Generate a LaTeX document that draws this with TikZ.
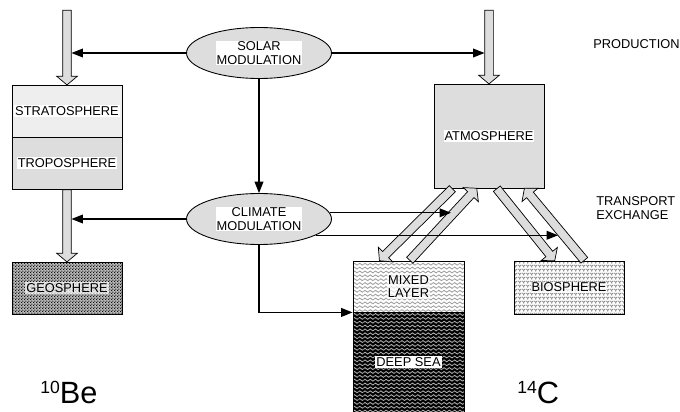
\documentclass[tikz,border=0pt]{standalone}
\usepackage{fontspec}
\setmainfont{Liberation Sans}
\usetikzlibrary{shapes.geometric, shapes.arrows, arrows.meta, calc, patterns}
\definecolor{panelgray}{RGB}{221,221,221}
\definecolor{palegray}{RGB}{238,238,238}
\newcommand{\diagfont}{\fontsize{7.3}{7.6}\selectfont}

% wavy water
\pgfdeclarepatternformonly{seawaves}{\pgfqpoint{0pt}{-0.6pt}}{\pgfqpoint{3pt}{1.6pt}}{\pgfqpoint{3pt}{2.2pt}}{%
  \pgfsetlinewidth{0.5pt}%
  \pgfpathmoveto{\pgfqpoint{0pt}{0.5pt}}%
  \pgfpathcurveto{\pgfqpoint{0.5pt}{1.2pt}}{\pgfqpoint{1pt}{1.2pt}}{\pgfqpoint{1.5pt}{0.5pt}}%
  \pgfpathcurveto{\pgfqpoint{2pt}{-0.2pt}}{\pgfqpoint{2.5pt}{-0.2pt}}{\pgfqpoint{3pt}{0.5pt}}%
  \pgfusepath{stroke}}
% little plants
\pgfdeclarepatternformonly{sprouts}{\pgfqpoint{0pt}{0pt}}{\pgfqpoint{2.4pt}{2.4pt}}{\pgfqpoint{2.4pt}{2.4pt}}{%
  \pgfsetlinewidth{0.5pt}%
  \pgfpathmoveto{\pgfqpoint{0.2pt}{2.1pt}}%
  \pgfpathlineto{\pgfqpoint{1.2pt}{1.1pt}}%
  \pgfpathlineto{\pgfqpoint{2.2pt}{2.1pt}}%
  \pgfpathmoveto{\pgfqpoint{1.2pt}{1.1pt}}%
  \pgfpathlineto{\pgfqpoint{1.2pt}{0.2pt}}%
  \pgfusepath{stroke}}
% sand grains
\pgfdeclarepatternformonly{grains}{\pgfqpoint{0pt}{0pt}}{\pgfqpoint{1.8pt}{1.8pt}}{\pgfqpoint{1.8pt}{1.8pt}}{%
  \pgfpathcircle{\pgfqpoint{0.45pt}{0.45pt}}{0.5pt}%
  \pgfpathcircle{\pgfqpoint{1.35pt}{1.35pt}}{0.5pt}%
  \pgfusepath{fill}}

\tikzset{
  conn/.style={-{Triangle[length=6.5pt,width=5pt]}, line width=0.7pt},
  fat/.style={single arrow, draw, fill=panelgray, line width=0.4pt, inner xsep=0pt,
    inner ysep=0.08cm, single arrow head extend=0.12cm, single arrow tip angle=100},
  reservoir/.style={draw, line width=0.5pt, minimum width=2.2cm, minimum height=1.04cm, inner sep=0pt},
  modbubble/.style={ellipse, draw, fill=panelgray, line width=0.5pt,
    minimum width=2.9cm, minimum height=1.02cm, inner sep=0pt},
  tag/.style={fill=white, inner sep=0.6pt, align=center, font=\diagfont},
  softtag/.style={tag, fill opacity=0.7, text opacity=1},
  note/.style={inner sep=0pt, align=left, font=\diagfont},
  isotope/.style={inner sep=0pt, anchor=base west, font=\fontsize{17.5}{18}\selectfont}
}

% hollow transport arrow from #1 to #2
\newcommand{\fatarrow}[2]{%
  \path let \p1=($(#2)-(#1)$), \n1={veclen(\x1,\y1)} in
    (#1) -- (#2) node[fat, pos=0, anchor=tail, sloped, allow upside down, minimum height=\n1] {};}

\begin{document}
\begin{tikzpicture}[x=0.02cm, y=-0.02cm]
    \useasboundingbox (0,0) rectangle (680,412);

    % Modulation
    \node[modbubble, label={[tag]center:SOLAR\\MODULATION}] (solar) at (259,53) {};
    \node[modbubble, label={[tag]center:CLIMATE\\MODULATION}] (climate) at (259,219) {};

    % Left: 10Be
    \node[reservoir, fill=palegray, label={[tag]center:STRATOSPHERE}] (strat) at (67,111) {};
    \node[reservoir, fill=panelgray, label={[tag]center:TROPOSPHERE}] (trop) at (67,163) {};
    \node[reservoir, preaction={fill=gray!55}, pattern=grains, pattern color=black,
        label={[softtag]center:GEOSPHERE}] (geo) at (67,288) {};

    % Right: 14C
    \node[reservoir, fill=panelgray, minimum height=2.08cm, label={[tag]center:ATMOSPHERE}] (atm) at (489,136) {};
    \node[reservoir, minimum width=2.22cm, minimum height=1.02cm, preaction={fill=white},
        pattern=seawaves, pattern color=gray!75, label={[softtag]center:{MIXED\\LAYER}}] (mixed) at (408.5,286.5) {};
    \node[reservoir, minimum width=2.22cm, minimum height=2cm, preaction={fill=black},
        pattern=seawaves, pattern color=gray!65, label={[tag]center:DEEP SEA}] (deep) at (408.5,362) {};
    \node[reservoir, minimum height=1.06cm, preaction={fill=white}, pattern=sprouts,
        pattern color=gray, label={[softtag]center:BIOSPHERE}] (bio) at (569,287.5) {};

    % Free ends
    \coordinate (betop) at (67,10);
    \coordinate (ctop) at (489,10);
    \coordinate (beshaft) at (71.5,0);
    \coordinate (cshaft) at (484.5,0);
    \coordinate (tomix) at (451,0);
    \coordinate (tobio) at (558,0);
    \coordinate (atmA) at ($(atm.south west)+(19,0)$);
    \coordinate (atmB) at ($(atm.south west)+(43,0)$);
    \coordinate (atmC) at ($(atm.south west)+(63,0)$);
    \coordinate (atmD) at ($(atm.south west)+(91,0)$);
    \coordinate (mixA) at ($(mixed.north west)+(27,0)$);
    \coordinate (mixB) at ($(mixed.north west)+(57,0)$);
    \coordinate (bioA) at ($(bio.north west)+(41,0)$);
    \coordinate (bioB) at ($(bio.north west)+(71,0)$);

    % Production and exchange
    \fatarrow{betop}{strat.north}
    \fatarrow{trop.south}{geo.north}
    \fatarrow{ctop}{atm.north}
    \fatarrow{atmA}{mixA}
    \fatarrow{mixB}{atmB}
    \fatarrow{atmC}{bioA}
    \fatarrow{bioB}{atmD}

    % Connectors
    \draw[conn] (solar.west) -- (solar.west -| beshaft);
    \draw[conn] (solar.east) -- (solar.east -| cshaft);
    \draw[conn] (solar.south) -- (climate.north);
    \draw[conn] (climate.west) -- (climate.west -| beshaft);
    \draw[conn] (climate.5) -- (climate.5 -| tomix);
    \draw[conn] (climate.-16) -- (climate.-16 -| tobio);
    \draw[conn] (climate.south) |- (mixed.south west);

    % Labels
    \node[note, anchor=west] (prod) at (593,44) {PRODUCTION};
    \node[note, anchor=west] (trans) at (596,208) {TRANSPORT\\EXCHANGE};
    \node[isotope] (be) at (40,403) {\raisebox{5.5pt}{\fontsize{10}{10}\selectfont 10}Be};
    \node[isotope] (carbon) at (517,403) {\raisebox{5.5pt}{\fontsize{10}{10}\selectfont 14}C};
\end{tikzpicture}
\end{document}
